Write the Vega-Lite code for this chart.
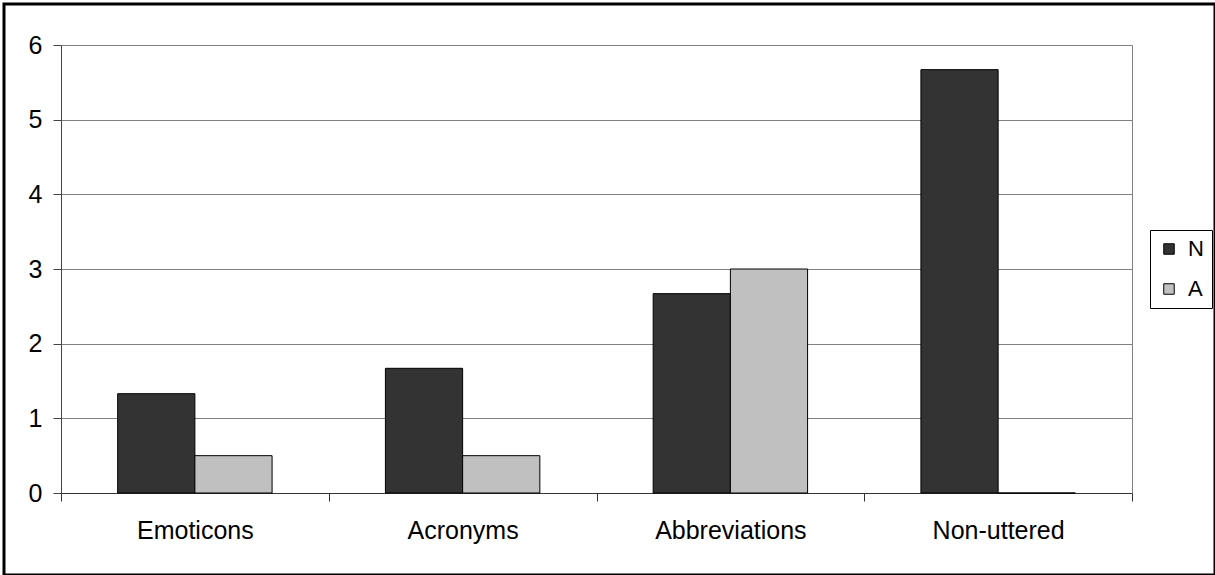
{
  "$schema": "https://vega.github.io/schema/vega-lite/v6.json",
  "autosize": {"type": "none"},
  "padding": {"left": 4, "top": 4, "right": 0, "bottom": 0},
  "width": 1211,
  "height": 571,
  "background": "white",
  "config": {
    "view": {"stroke": "black", "strokeWidth": 3},
    "font": "Liberation Sans"
  },
  "data": {
    "values": [
      {"category": "Emoticons", "group": "N", "value": 1.33},
      {"category": "Emoticons", "group": "A", "value": 0.5},
      {"category": "Acronyms", "group": "N", "value": 1.67},
      {"category": "Acronyms", "group": "A", "value": 0.5},
      {"category": "Abbreviations", "group": "N", "value": 2.67},
      {"category": "Abbreviations", "group": "A", "value": 3.0},
      {"category": "Non-uttered", "group": "N", "value": 5.67},
      {"category": "Non-uttered", "group": "A", "value": 0}
    ]
  },
  "layer": [
    {
      "mark": {"type": "bar", "stroke": "black", "strokeWidth": 1},
      "encoding": {
        "x": {
          "field": "category",
          "type": "nominal",
          "sort": null,
          "title": null,
          "scale": {"range": [57, 1128], "paddingInner": 0, "paddingOuter": 0},
          "axis": {
            "orient": "bottom",
            "offset": -82,
            "labelAngle": 0,
            "labelFont": "Liberation Sans",
            "labelFontSize": 25,
            "labelColor": "black",
            "labelPadding": 17,
            "tickBand": "extent",
            "tickSize": 8,
            "tickColor": "#333333",
            "domainColor": "#333333"
          }
        },
        "xOffset": {
          "field": "group",
          "type": "nominal",
          "sort": null,
          "scale": {"paddingInner": 0, "paddingOuter": 0.734}
        },
        "y": {
          "field": "value",
          "type": "quantitative",
          "title": null,
          "scale": {"domain": [0, 6], "range": [489, 41], "nice": false},
          "axis": {
            "orient": "left",
            "offset": -57,
            "tickCount": 6,
            "labelFont": "Liberation Sans",
            "labelFontSize": 25,
            "labelColor": "black",
            "labelPadding": 11,
            "tickSize": 8,
            "tickColor": "#444444",
            "domainColor": "#444444",
            "gridColor": "#808080"
          }
        },
        "color": {
          "field": "group",
          "type": "nominal",
          "sort": null,
          "scale": {"range": ["#333333", "#c0c0c0"]},
          "legend": {
            "title": null,
            "orient": "none",
            "legendX": 1146,
            "legendY": 226,
            "strokeColor": "black",
            "padding": 8,
            "symbolType": "square",
            "symbolSize": 110,
            "symbolStrokeColor": "black",
            "symbolStrokeWidth": 1,
            "labelFont": "Liberation Sans",
            "labelFontSize": 22,
            "labelColor": "black",
            "labelOffset": 8,
            "rowPadding": 18
          }
        }
      }
    },
    {
      "mark": {"type": "point", "opacity": 0},
      "encoding": {
        "x": {"field": "category", "type": "nominal", "sort": null},
        "y": {
          "field": "value",
          "type": "quantitative",
          "axis": {
            "orient": "right",
            "offset": -83,
            "title": null,
            "labels": false,
            "ticks": false,
            "grid": false,
            "domainColor": "#808080"
          }
        }
      }
    }
  ],
  "resolve": {"axis": {"y": "independent"}}
}
